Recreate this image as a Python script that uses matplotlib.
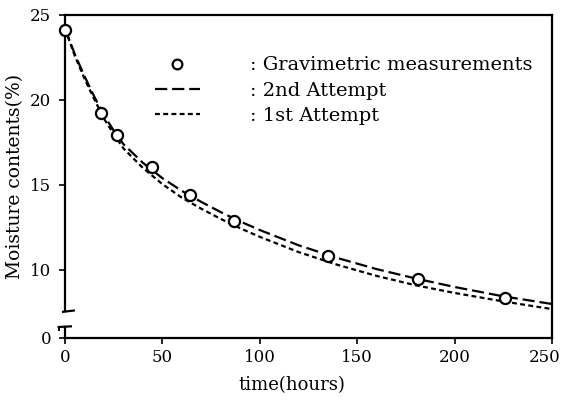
import matplotlib
matplotlib.use("Agg")
import matplotlib.pyplot as plt
from matplotlib.lines import Line2D
from matplotlib.transforms import ScaledTranslation

plt.rcParams['font.family'] = ['DejaVu Serif']

# measured points (hours, moisture %)
meas_t = [0, 18.5, 26.5, 44.5, 64, 87, 135, 181, 226]
meas_m = [24.12, 19.24, 17.94, 16.06, 14.41, 12.88, 10.82, 9.47, 8.35]

# model curves
curve_t = [0, 5, 10, 15, 20, 25, 30, 40, 50, 60, 70, 80, 90, 100, 120, 140, 160, 180, 200, 225, 250]
second_m = [24.2, 22.7, 21.4, 20.2, 19.1, 18.2, 17.4, 16.3, 15.4, 14.65, 14.0, 13.4, 12.85, 12.35,
            11.45, 10.7, 10.05, 9.5, 9.0, 8.45, 8.0]
first_m = [24.2, 22.6, 21.25, 20.05, 18.9, 18.0, 17.15, 16.0, 15.05, 14.25, 13.6, 13.0, 12.45, 11.95,
           11.05, 10.3, 9.65, 9.1, 8.65, 8.15, 7.7]

x_ticks = [0, 50, 100, 150, 200, 250]
y_ticks = [6, 10, 15, 20, 25]          # 6 is the broken-axis position of "0"
y_ticklabels = ['0', '10', '15', '20', '25']

labels = [': Gravimetric measurements', ': 2nd Attempt', ': 1st Attempt']

fig = plt.figure(figsize=(5.62, 4.08), dpi=100)
ax = fig.add_axes([0.1157, 0.1716, 0.8665, 0.7917])

lw = 1.6
long_dash = (5.5, 2.2)
short_dash = (2.2, 1.5)
ax.plot(curve_t, second_m, color='black', lw=lw, dashes=long_dash, zorder=2)
ax.plot(curve_t, first_m, color='black', lw=lw, dashes=short_dash, zorder=2)
ax.plot(meas_t, meas_m, 'o', ms=8, mfc='white', mec='black', mew=1.6, ls='none', zorder=3,
        clip_on=False)

ax.set_xlim(0, 250)
ax.set_ylim(6, 25)
ax.set_xticks(x_ticks)
ax.set_xticklabels([str(v) for v in x_ticks])
ax.set_yticks(y_ticks)
ax.set_yticklabels(y_ticklabels)
ax.tick_params(axis='both', direction='out', length=4, width=1.2, labelsize=12)
ax.tick_params(axis='x', pad=4)
ax.tick_params(axis='y', pad=6)

# keep the last x tick label inside the figure
last = ax.get_xticklabels()[-1]
last.set_transform(last.get_transform() + ScaledTranslation(-5 / 72, 0, fig.dpi_scale_trans))

for s in ['top', 'right', 'bottom', 'left']:
    ax.spines[s].set_linewidth(1.6)
ax.spines['left'].set_bounds(7.6, 25)

# lower piece of broken left axis and break marks (axes coords)
tr = ax.transAxes
ax.plot([0, 0], [0, 0.034], transform=tr, color='black', lw=1.6, clip_on=False)
ax.plot([-0.004, 0.018], [0.081, 0.085], transform=tr, color='black', lw=1.6, clip_on=False)
ax.plot([-0.013, 0.012], [0.034, 0.036], transform=tr, color='black', lw=1.6, clip_on=False)
ax.plot([-0.013, -0.013], [0.034, 0.024], transform=tr, color='black', lw=1.4, clip_on=False)

ax.set_ylabel('Moisture contents(%)', fontsize=13.5, labelpad=4)
ax.set_xlabel('time(hours)', fontsize=13)
ax.xaxis.set_label_coords(0.466, -0.118)

handles = [
    Line2D([], [], marker='o', ms=7, mfc='white', mec='black', mew=1.6, ls='none'),
    Line2D([], [], color='black', lw=lw, dashes=long_dash),
    Line2D([], [], color='black', lw=lw, dashes=short_dash),
]
ax.legend(handles, labels, loc='upper left', bbox_to_anchor=(0.185, 0.872), frameon=False,
          fontsize=14, handlelength=2.3, handletextpad=2.6, labelspacing=0.38,
          borderpad=0, borderaxespad=0)

fig.savefig('out.png', dpi=100)
